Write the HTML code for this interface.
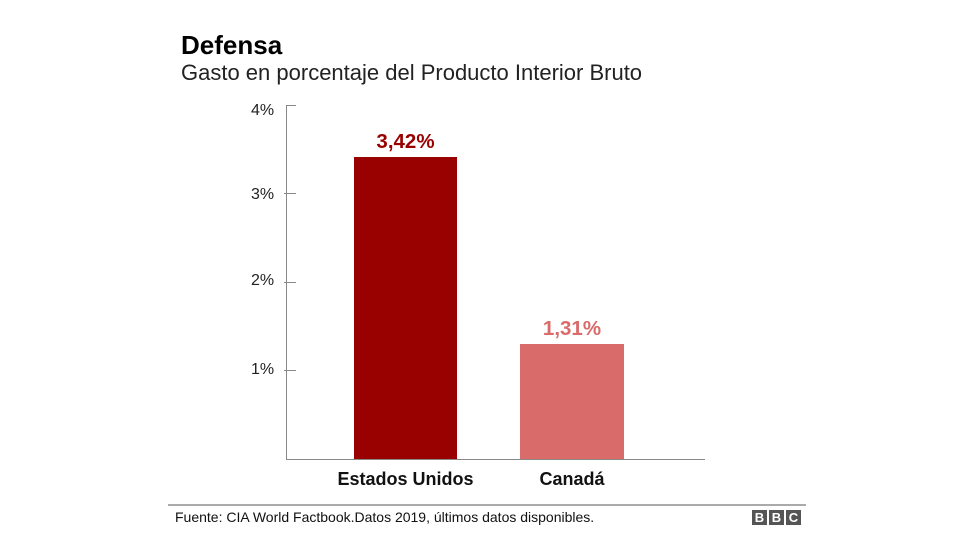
<!DOCTYPE html>
<html><head><meta charset="utf-8"><style>
body{margin:0;width:976px;height:549px;background:#fff;font-family:"Liberation Sans",Arial,sans-serif;position:relative;overflow:hidden}
div{position:absolute;white-space:nowrap}
.t{font-size:16px;color:#222}
.b{width:15px;height:15px;background:#555;color:#fff;font-size:13px;font-weight:bold;text-align:center;line-height:15px}
</style></head><body>
<div style="left:181px;top:30px;font-size:26px;font-weight:bold;color:#000">Defensa</div>
<div style="left:181px;top:60px;font-size:22px;color:#222">Gasto en porcentaje del Producto Interior Bruto</div>
<div style="left:286px;top:105px;width:1px;height:355px;background:#888"></div>
<div style="left:286px;top:459px;width:419px;height:1px;background:#888"></div>
<div style="left:286px;top:105px;width:10px;height:1px;background:#888"></div>
<div style="left:284px;top:193px;width:12px;height:1px;background:#888"></div>
<div style="left:284px;top:282px;width:12px;height:1px;background:#888"></div>
<div style="left:284px;top:370px;width:12px;height:1px;background:#888"></div>
<div class="t" style="left:251px;top:102px">4%</div>
<div class="t" style="left:251px;top:186px">3%</div>
<div class="t" style="left:251px;top:272px">2%</div>
<div class="t" style="left:251px;top:361px">1%</div>
<div style="left:354px;top:157px;width:103px;height:302px;background:#990000"></div>
<div style="left:520px;top:344px;width:104px;height:115px;background:#d96b6b"></div>
<div style="left:354px;top:130px;width:103px;text-align:center;font-size:20.5px;font-weight:bold;color:#990000">3,42%</div>
<div style="left:520px;top:317px;width:104px;text-align:center;font-size:20.5px;font-weight:bold;color:#d96b6b">1,31%</div>
<div style="left:320px;top:469px;width:171px;text-align:center;font-size:18px;font-weight:bold;color:#111">Estados Unidos</div>
<div style="left:500px;top:469px;width:144px;text-align:center;font-size:18px;font-weight:bold;color:#111">Canadá</div>
<div style="left:168px;top:504px;width:638px;height:2px;background:#aaa"></div>
<div style="left:175px;top:509px;font-size:14px;color:#111">Fuente: CIA World Factbook.Datos 2019, últimos datos disponibles.</div>
<div class="b" style="left:752px;top:510px">B</div>
<div class="b" style="left:769px;top:510px">B</div>
<div class="b" style="left:786px;top:510px">C</div>
</body></html>
